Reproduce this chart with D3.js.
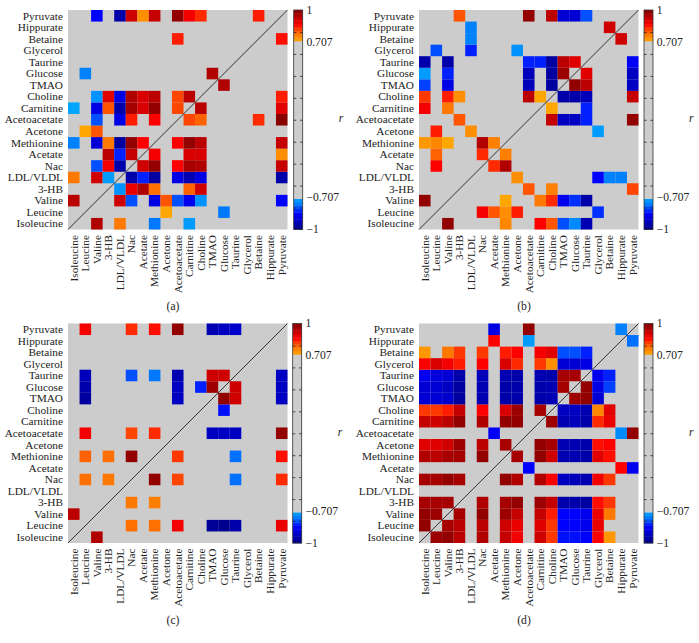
<!DOCTYPE html>
<html><head><meta charset="utf-8">
<script src="https://cdn.jsdelivr.net/npm/d3@7"></script>
<style>html,body{margin:0;padding:0;background:#fff}svg{display:block}text{font-family:"Liberation Serif",serif;fill:#222}</style>
</head><body><svg id="c" width="699" height="643"></svg>
<script>
const metabolites=["Isoleucine","Leucine","Valine","3-HB","LDL/VLDL","Nac","Acetate","Methionine","Acetone","Acetoacetate","Carnitine","Choline","TMAO","Glucose","Taurine","Glycerol","Betaine","Hippurate","Pyruvate"];
const colorTicks=[1,0.707,-0.707,-1];
const colorbarTicks=[-0.8,-0.6,-0.4,-0.2,0,0.2,0.4,0.6,0.8];
// each row (Isoleucine first) lists [column, r]
const panelA=[
[[2,.95],[4,.78],[7,-.77],[10,-.73]],
[[8,.72],[13,-.77]],
[[0,.94],[4,.92],[5,-.8],[7,-.88],[8,.81],[9,-.8],[10,-.87],[11,-.74],[18,-.85]],
[[4,-.74],[5,.89],[6,.95],[7,.79],[10,.8],[11,.92]],
[[0,.78],[2,.92],[3,-.73],[5,-.95],[6,-.83],[7,-.96],[9,-.88],[10,-.94],[11,-.88],[18,-.95]],
[[2,-.8],[3,.88],[4,-.95],[6,.92],[7,.98],[9,.87],[10,.96],[11,.95],[18,.93]],
[[3,.94],[4,-.83],[5,.93],[7,.88],[10,.91],[11,.91],[18,.75]],
[[0,-.76],[2,-.9],[3,.78],[4,-.96],[5,.98],[6,.87],[9,.87],[10,.98],[11,.94],[18,.93]],
[[1,.72],[2,.81]],
[[2,-.8],[4,-.88],[5,.85],[7,.87],[10,.82],[11,.8],[16,.84],[18,.99]],
[[0,-.72],[2,-.88],[3,.81],[4,-.95],[5,.96],[6,.91],[7,.98],[9,.82],[11,.94],[18,.9]],
[[2,-.74],[3,.9],[4,-.88],[5,.95],[6,.91],[7,.94],[9,.82],[10,.94],[18,.85]],
[[13,.95]],
[[1,-.76],[12,.95]],
[],
[],
[[9,.85],[18,.86]],
[],
[[2,-.85],[4,-.95],[5,.92],[6,.75],[7,.93],[9,.98],[10,.88],[11,.84],[16,.85]]
];
const panelB=[
[[2,.98],[7,.76],[10,.87],[11,.81],[12,-.8],[13,-.75],[14,-.94]],
[[5,.88],[6,.81],[7,.75],[8,.85],[15,-.82]],
[[0,.98],[7,.72],[10,.78],[11,.84],[12,-.87],[13,-.82],[14,-.95]],
[[9,.81],[11,.77],[18,.82]],
[[8,.75],[15,-.85],[16,-.76],[17,-.76]],
[[1,.87],[6,.84],[7,.95]],
[[1,.8],[5,.84],[7,.77]],
[[0,.74],[1,.76],[2,.72],[5,.95],[6,.77]],
[[1,.85],[4,.75],[15,-.73]],
[[3,.81],[11,.93],[12,-.92],[13,-.92],[14,-.83],[18,.98]],
[[0,.88],[2,.78],[11,.72],[14,-.83]],
[[0,.83],[2,.85],[3,.75],[9,.94],[10,.72],[12,-.95],[13,-.95],[14,-.93],[18,.93]],
[[0,-.81],[2,-.88],[9,-.93],[11,-.96],[13,.98],[14,.94],[18,-.92]],
[[0,-.73],[2,-.83],[9,-.93],[11,-.96],[12,.97],[14,.9],[18,-.92]],
[[0,-.95],[2,-.95],[9,-.83],[10,-.83],[11,-.96],[12,.94],[13,.9],[18,-.86]],
[[1,-.8],[4,-.83],[8,-.74]],
[[4,-.76],[17,.92]],
[[4,-.76],[16,.92]],
[[3,.81],[9,.98],[11,.94],[12,-.9],[13,-.9],[14,-.8]]
];
const panelC=[
[[2,.95]],
[[5,.79],[7,.79],[9,.88],[12,-.97],[13,-.98],[14,-.95],[18,.89]],
[[0,.94]],
[[5,.78],[7,.77]],
[],
[[1,.79],[3,.78],[7,.98],[9,.82],[14,-.78],[18,.84]],
[],
[[1,.8],[3,.79],[5,.98],[9,.83],[14,-.78],[18,.86]],
[],
[[1,.88],[5,.82],[7,.84],[12,-.92],[13,-.92],[14,-.92],[18,.98]],
[],
[[13,-.84]],
[[1,-.96],[9,-.92],[13,.98],[14,.92],[18,-.92]],
[[1,-.95],[9,-.92],[11,-.83],[12,.97],[14,.92],[18,-.92]],
[[1,-.93],[5,-.8],[7,-.77],[9,-.94],[12,.92],[13,.92],[18,-.92]],
[],
[],
[],
[[1,.88],[5,.84],[7,.86],[9,.98],[12,-.94],[13,-.92],[14,-.91]]
];
const panelD=[
[[1,.97],[2,.98],[3,.94],[5,.95],[7,.93],[8,.88],[10,.92],[11,.83],[12,-.84],[13,-.84],[14,-.85],[15,.87],[16,.74]],
[[0,.98],[2,.96],[3,.94],[5,.94],[7,.92],[8,.89],[10,.9],[11,.83],[12,-.85],[13,-.85],[14,-.87],[15,.89]],
[[0,.98],[1,.97],[3,.96],[5,.98],[7,.97],[8,.93],[10,.93],[11,.85],[12,-.85],[13,-.85],[14,-.87],[15,.89],[16,.78]],
[[0,.96],[1,.96],[2,.96],[5,.95],[7,.96],[8,.98],[10,.97],[11,.93],[12,-.95],[13,-.95],[14,-.96],[15,.86],[16,.83]],
[],
[[0,.96],[1,.96],[2,.98],[3,.96],[7,.98],[8,.95],[10,.95],[11,.87],[12,-.92],[13,-.93],[14,-.94],[15,.88],[16,.83]],
[[9,-.85],[17,.87],[18,-.87]],
[[0,.95],[1,.94],[2,.96],[3,.96],[5,.98],[8,.96],[10,.98],[11,.92],[12,-.94],[13,-.94],[14,-.95],[15,.9],[16,.86]],
[[0,.9],[1,.9],[2,.92],[3,.97],[5,.94],[7,.96],[10,.98],[11,.96],[12,-.94],[13,-.94],[14,-.95],[15,.86],[16,.87]],
[[6,-.86],[17,-.75],[18,.98]],
[[0,.93],[1,.92],[2,.94],[3,.98],[5,.95],[7,.98],[8,.98],[11,.97],[12,-.94],[13,-.93],[14,-.95],[15,.84],[16,.89]],
[[0,.83],[1,.83],[2,.85],[3,.93],[5,.87],[7,.91],[8,.97],[10,.96],[12,-.92],[13,-.92],[14,-.94],[15,.76],[16,.9]],
[[0,-.9],[1,-.9],[2,-.91],[3,-.96],[5,-.94],[7,-.95],[8,-.95],[10,-.95],[11,-.94],[13,.97],[14,.98],[15,-.9]],
[[0,-.9],[1,-.9],[2,-.92],[3,-.96],[5,-.94],[7,-.95],[8,-.95],[10,-.95],[11,-.94],[12,.96],[14,.98],[15,-.88],[16,-.81]],
[[0,-.87],[1,-.89],[2,-.9],[3,-.95],[5,-.93],[7,-.94],[8,-.95],[10,-.94],[11,-.95],[12,.96],[13,.96],[15,-.87],[16,-.83]],
[[0,.87],[1,.91],[2,.88],[3,.85],[5,.87],[7,.91],[8,.84],[10,.83],[11,.75],[12,-.9],[13,-.9],[14,-.88]],
[[0,.74],[2,.78],[3,.83],[5,.83],[7,.85],[8,.87],[10,.88],[11,.9],[12,-.8],[13,-.8],[14,-.83]],
[[6,.87],[9,-.73],[18,-.78]],
[[6,-.88],[9,.98],[17,-.76]]
];
const panels=[
 {cells:panelA,tag:"(a)",x:68,y:10,bar:293.7,cap:[173,310]},
 {cells:panelB,tag:"(b)",x:419,y:10,bar:644,cap:[524,310]},
 {cells:panelC,tag:"(c)",x:68,y:323.5,bar:292.7,cap:[173,624]},
 {cells:panelD,tag:"(d)",x:419,y:323.5,bar:644,cap:[524,624]}
];
const size=219.5, barW=9, fs=11.3;
const color=d3.scaleLinear()
 .domain([-1,-.85,-.78,-.707,.707,.79,.87,1])
 .range(["#00007f","#0000ff","#0070ff","#00b0ff","#ffb000","#ff7000","#ff0000","#7f0000"]);
const svg=d3.select("#c");
panels.forEach(p=>{
 const g=svg.append("g").attr("transform",`translate(${p.x},${p.y})`);
 const x=d3.scaleBand().domain(metabolites).range([0,size]);
 const y=d3.scaleBand().domain(metabolites).range([size,0]);
 g.append("rect").attr("width",size).attr("height",size).attr("fill","#cccccc");
 const data=p.cells.flatMap((row,i)=>row.map(([c,r])=>({row:metabolites[i],col:metabolites[c],r})));
 g.selectAll(".cell").data(data).join("rect").attr("class","cell")
  .attr("x",d=>x(d.col)).attr("y",d=>y(d.row))
  .attr("width",x.bandwidth()).attr("height",y.bandwidth()).attr("fill",d=>color(d.r));
 g.append("line").attr("x1",0).attr("y1",size).attr("x2",size).attr("y2",0).attr("stroke","#222").attr("stroke-width",.9);
 g.selectAll(".yl").data(metabolites).join("text").attr("class","yl")
  .attr("x",-5).attr("y",d=>y(d)+y.bandwidth()/2).attr("dy","0.33em").attr("text-anchor","end")
  .attr("font-size",fs).text(d=>d);
 g.selectAll(".xl").data(metabolites).join("text").attr("class","xl")
  .attr("transform",d=>`translate(${x(d)+x.bandwidth()/2+3.8},${size+5.5}) rotate(-90)`)
  .attr("text-anchor","end").attr("font-size",fs).text(d=>d);
 // colour bar
 const s=d3.scaleLinear().domain([-1,1]).range([size,0]);
 const bar=svg.append("g").attr("transform",`translate(${p.bar},${p.y})`);
 const steps=d3.range(64).map(i=>-1+i/32);
 bar.selectAll(".b").data(steps).join("rect").attr("class","b")
  .attr("x",0).attr("width",barW).attr("y",d=>s(d+1/32)).attr("height",size/64+.4)
  .attr("fill",d=>{const m=d+1/64;return Math.abs(m)<.707?"#cccccc":color(m);});
 const ticksR=bar.append("g").attr("transform",`translate(${barW},0)`).call(d3.axisLeft(s).tickValues(colorbarTicks).tickSize(2.6).tickFormat(""));
 const ticksL=bar.append("g").call(d3.axisRight(s).tickValues(colorbarTicks).tickSize(2.6).tickFormat(""));
 [ticksR,ticksL].forEach(a=>{a.select(".domain").remove();a.selectAll("line").attr("stroke","#222").attr("stroke-width",.8);});
 bar.append("rect").attr("width",barW).attr("height",size).attr("fill","none").attr("stroke","#333").attr("stroke-width",.8);
 colorTicks.forEach(v=>{
  bar.append("text").attr("x",barW+3.7).attr("y",s(v)).attr("dy","0.33em").attr("font-size",fs+.3)
   .text(v<0?"\u2212"+Math.abs(v):v);
 });
 bar.append("text").attr("x",barW+36).attr("y",s(0)+2.5).attr("font-style","italic").attr("font-size",fs+.3).text("r");
 svg.append("text").attr("x",p.cap[0]).attr("y",p.cap[1]).attr("text-anchor","middle").attr("font-size",fs+.3).text(p.tag);
});
</script></body></html>
